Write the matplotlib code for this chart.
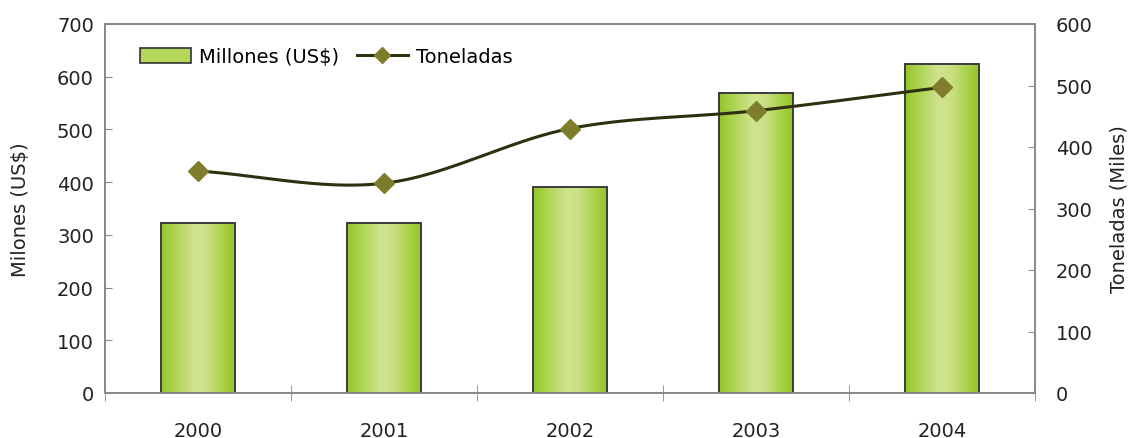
import numpy as np
import matplotlib
matplotlib.use("Agg")
import matplotlib.pyplot as plt
from matplotlib.colors import LinearSegmentedColormap
from matplotlib.patches import Patch
from matplotlib.lines import Line2D

plt.rcParams['font.family'] = ['DejaVu Sans']

years = ["2000", "2001", "2002", "2003", "2004"]
millones = [323, 323, 390, 570, 625]
toneladas = [361, 341, 430, 459, 497]
left_ticks = [0, 100, 200, 300, 400, 500, 600, 700]
right_ticks = [0, 100, 200, 300, 400, 500, 600]

FS = 14
W, H = 1137, 439
fig = plt.figure(figsize=(W / 100, H / 100), dpi=100)
ax = fig.add_axes([105 / W, 1 - 394 / H, 930 / W, 369 / H])
ax2 = ax.twinx()

x = np.arange(len(years))
bw = 0.40

cmap = LinearSegmentedColormap.from_list(
    "g", [(0, "#94c52a"), (0.15, "#a8d24a"), (0.45, "#d0e38f"), (0.62, "#cbe085"), (0.85, "#a6cf42"), (1, "#94c52a")])
grad = np.linspace(0, 1, 256).reshape(1, -1)
for xi, v in zip(x, millones):
    ax.imshow(grad, cmap=cmap, aspect='auto', extent=(xi - bw / 2, xi + bw / 2, 0, v), zorder=2)
ax.bar(x, millones, width=bw, fill=False, edgecolor="#3c3c3c", linewidth=1.4, zorder=3)
ax.set_xlim(-0.5, len(years) - 0.5)
ax.set_ylim(0, 700)
ax2.set_ylim(0, 600)

# smooth line (Catmull-Rom through the data points)
px = np.array(x, dtype=float)
py = np.array(toneladas, dtype=float)
P = np.column_stack([px, py])
P_ext = np.vstack([P[0] - (P[1] - P[0]), P, P[-1] + (P[-1] - P[-2])])
cx, cy = [], []
t = np.linspace(0, 1, 40)
for i in range(1, len(P_ext) - 2):
    p0, p1, p2, p3 = P_ext[i - 1], P_ext[i], P_ext[i + 1], P_ext[i + 2]
    b1 = p1 + (p2 - p0) / 6
    b2 = p2 - (p3 - p1) / 6
    seg = ((1 - t) ** 3)[:, None] * p1 + (3 * (1 - t) ** 2 * t)[:, None] * b1 + \
          (3 * (1 - t) * t ** 2)[:, None] * b2 + (t ** 3)[:, None] * p2
    cx.extend(seg[:, 0]); cy.extend(seg[:, 1])
ax2.plot(cx, cy, color="#2f3010", linewidth=2.2, zorder=4, solid_capstyle='round')
ax2.plot(px, py, linestyle='none', marker='D', markersize=10, color="#7d7d2c",
         markeredgecolor="#7d7d2c", zorder=5)

ax.set_zorder(1)
ax2.set_zorder(2)
ax2.patch.set_visible(False)

spine_c = "#8a8a8a"
for a in (ax, ax2):
    for s in a.spines.values():
        s.set_color(spine_c)
        s.set_linewidth(1.3)

ax.set_yticks(left_ticks)
ax.set_yticklabels([str(v) for v in left_ticks], fontsize=FS, color="#222222")
ax.tick_params(axis='y', direction='in', length=5, color=spine_c, pad=8)
ax2.set_yticks(right_ticks)
ax2.set_yticklabels([str(v) for v in right_ticks], fontsize=FS, color="#222222")
ax2.tick_params(axis='y', direction='in', length=5, color=spine_c, pad=15)

ax.set_xticks(x)
ax.set_xticklabels(years, fontsize=FS, color="#222222")
ax.set_xticks(np.arange(len(years) + 1) - 0.5, minor=True)
ax.tick_params(axis='x', which='major', length=0, pad=20)
ax.tick_params(axis='x', which='minor', direction='inout', length=12, color=spine_c)

ax.set_ylabel("Milones (US$)", fontsize=FS, color="#222222", labelpad=19)
ax2.set_ylabel("Toneladas (Miles)", fontsize=FS, color="#222222", labelpad=12)

handles = [Patch(facecolor="#b4d95a", edgecolor="#333333", linewidth=1.2),
           Line2D([0], [0], color="#2f3010", linewidth=2.2, marker='D', markersize=8,
                  markerfacecolor="#7d7d2c", markeredgecolor="#7d7d2c")]
ax2.legend(handles, ["Millones (US$)", "Toneladas"], loc='upper left',
           bbox_to_anchor=(0.019, 0.985), ncol=2, frameon=False, fontsize=FS,
           handlelength=2.6, handleheight=0.8, columnspacing=0.9, handletextpad=0.45)

fig.savefig("out.png", dpi=100)
